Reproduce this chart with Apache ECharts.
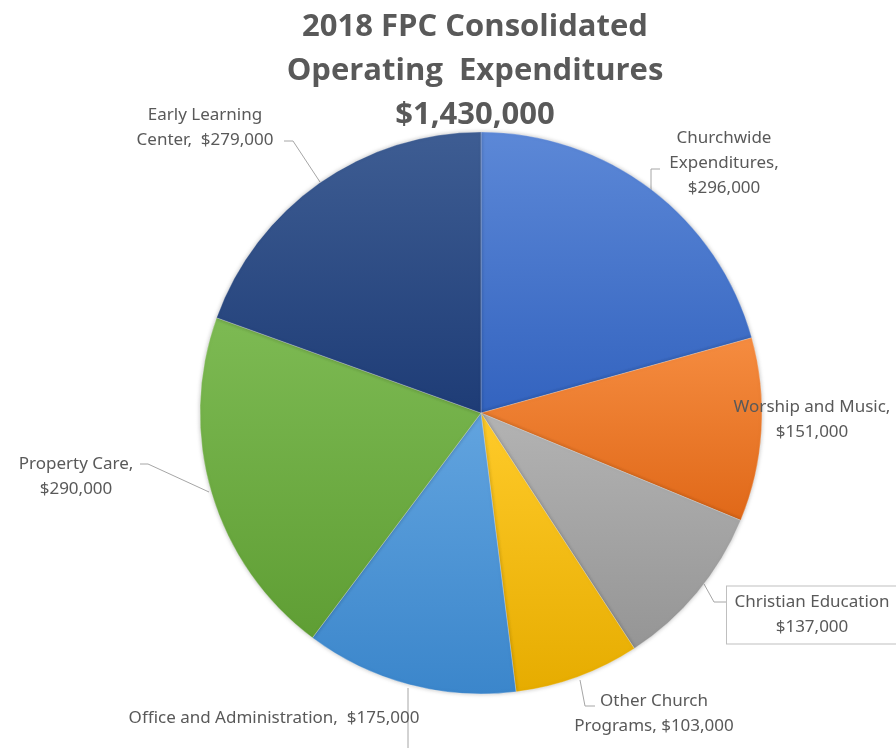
<!DOCTYPE html>
<html><head><meta charset="utf-8">
<script src="https://cdn.jsdelivr.net/npm/echarts@6/dist/echarts.min.js"></script>
<style>html,body{margin:0;padding:0;background:#fff}#c{width:896px;height:748px}</style>
</head><body><div id="c"></div>
<script>
const titleLines = ['2018 FPC Consolidated', 'Operating  Expenditures', '$1,430,000'];
const categories = ['Churchwide Expenditures', 'Worship and Music', 'Christian Education', 'Other Church Programs', 'Office and Administration', 'Property Care', 'Early Learning Center'];
const values = [296000, 151000, 137000, 103000, 175000, 290000, 279000];
const labelTemplates = ['Churchwide\nExpenditures,\n{v}', 'Worship and Music,\n{v}', 'Christian Education\n{v}', 'Other Church\nPrograms, {v}', 'Office and Administration,  {v}', 'Property Care,\n{v}', 'Early Learning\nCenter,  {v}'];

const gradStops = [
  ['#5C88D7', '#3363BF'],
  ['#F58C40', '#E06818'],
  ['#B3B3B3', '#959595'],
  ['#FFCB2A', '#E6AC00'],
  ['#62A4DF', '#3B86CB'],
  ['#7DBA53', '#5F9E34'],
  ['#3E5D93', '#1E3C76']
];
const labelLayoutCfg = [
  {x: 724, y: 163, w: 300, line: [[651, 192], [651, 169], [660, 169]]},
  {x: 812, y: 420, w: 300, line: null},
  {x: 812, y: 615, w: 162, line: [[704, 584], [714, 602], [727, 602]]},
  {x: 654, y: 714, w: 300, line: [[580, 680], [585, 706], [595, 706]]},
  {x: 274, y: 718, w: 400, line: [[408, 688], [408, 720], [408, 748]]},
  {x: 76, y: 477, w: 150, line: [[209, 492], [148, 464], [140, 464]]},
  {x: 205, y: 128, w: 200, line: [[320, 182], [293, 141], [284, 141]]}
];
const fmt = v => '$' + v.toLocaleString('en-US');

const chart = echarts.init(document.getElementById('c'));
const data = categories.map((n, i) => {
  const item = {
    name: n, value: values[i],
    itemStyle: {color: new echarts.graphic.LinearGradient(0, 0, 0, 1, [{offset: 0, color: gradStops[i][0]}, {offset: 1, color: gradStops[i][1]}])}
  };
  if (!labelLayoutCfg[i].line) item.labelLine = {show: false};
  if (i === 2) item.label = {borderColor: '#BFBFBF', borderWidth: 1, padding: [4, 4, 3, 4], backgroundColor: '#fff'};
  return item;
});
chart.setOption({
  animation: false,
  backgroundColor: '#fff',
  title: {
    text: titleLines.join('\n'), left: 470, top: 0, textAlign: 'center',
    textStyle: {fontFamily: 'Open Sans', fontSize: 31, fontWeight: 'bold', color: '#595959', lineHeight: 44}
  },
  series: [{
    type: 'pie', center: [481, 413], radius: 281, startAngle: 90, clockwise: true,
    itemStyle: {borderColor: 'rgba(255,255,255,0.5)', borderWidth: 0.5, shadowBlur: 4, shadowColor: 'rgba(0,0,0,0.25)'},
    label: {
      show: true, color: '#595959', fontFamily: 'Noto Sans', fontSize: 17, lineHeight: 25, overflow: 'none',
      formatter: p => labelTemplates[p.dataIndex].replace('{v}', fmt(p.value))
    },
    labelLine: {show: true, lineStyle: {color: '#A6A6A6', width: 1}},
    labelLayout: p => {
      const c = labelLayoutCfg[p.dataIndex];
      const r = {x: c.x, y: c.y, align: 'center', verticalAlign: 'middle', width: c.w};
      if (c.line) r.labelLinePoints = c.line;
      return r;
    },
    data: data
  }]
});
</script></body></html>
